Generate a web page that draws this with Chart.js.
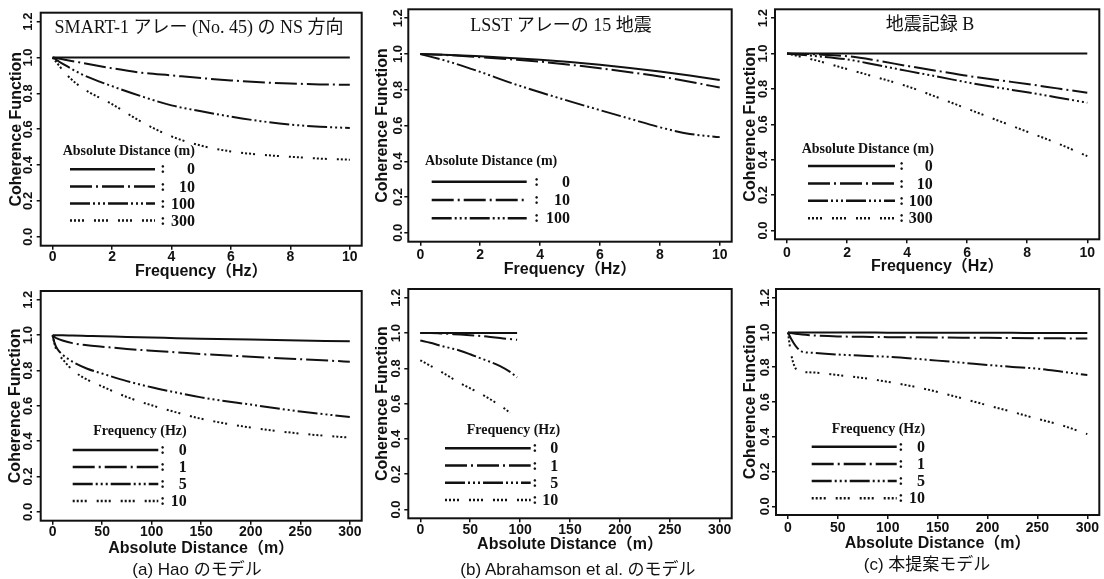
<!DOCTYPE html>
<html><head><meta charset="utf-8">
<script src="https://cdn.jsdelivr.net/npm/chart.js@4.4.1/dist/chart.umd.min.js"></script>
<style>
html,body{margin:0;padding:0;background:#fff;}
body{width:1104px;height:579px;position:relative;overflow:hidden;}
canvas{position:absolute;}
.cap{position:absolute;font-family:"Liberation Sans","Noto Sans CJK JP",sans-serif;font-size:17px;color:#111;white-space:nowrap;transform:translate(-50%,-50%);}
</style></head><body>
<canvas id="c1" width="368" height="285" style="left:0;top:0"></canvas>
<canvas id="c2" width="368" height="285" style="left:368px;top:0"></canvas>
<canvas id="c3" width="368" height="285" style="left:736px;top:0"></canvas>
<canvas id="c4" width="368" height="294" style="left:0;top:285px"></canvas>
<canvas id="c5" width="368" height="294" style="left:368px;top:285px"></canvas>
<canvas id="c6" width="368" height="294" style="left:736px;top:285px"></canvas>
<div class="cap" style="left:197px;top:567px">(a) Hao のモデル</div>
<div class="cap" style="left:578px;top:567px">(b) Abrahamson et al. のモデル</div>
<div class="cap" style="left:927px;top:562px">(c) 本提案モデル</div>
<script>
// ---- tick labels ----
const freqTicks = [0, 2, 4, 6, 8, 10];
const distTicks = [0, 50, 100, 150, 200, 250, 300];
const cohTicks = [0, 0.2, 0.4, 0.6, 0.8, 1.0, 1.2];
const distLabels = ['0', '10', '100', '300'];
const freqLabels = ['0', '1', '5', '10'];

// ---- (top-left) SMART-1 array, NS ----
const smartFreq = [0, 0.5, 1, 2, 3, 4, 5, 6, 7, 8, 9, 10];
const smart0   = [1.0, 1.0, 1.0, 1.0, 1.0, 1.0, 1.0, 1.0, 1.0, 1.0, 1.0, 1.0];
const smart10  = [1.0, 0.985, 0.97, 0.94, 0.915, 0.9, 0.885, 0.872, 0.862, 0.855, 0.85, 0.848];
const smart100 = [1.0, 0.95, 0.905, 0.84, 0.783, 0.733, 0.7, 0.67, 0.645, 0.626, 0.614, 0.607];
const smart300 = [1.0, 0.9, 0.83, 0.74, 0.64, 0.56, 0.508, 0.476, 0.458, 0.446, 0.436, 0.43];

// ---- (top-middle) LSST array ----
const lsstFreq = [0, 1, 2, 3, 4, 5, 6, 7, 8, 9, 10];
const lsst0   = [1.0, 0.995, 0.987, 0.978, 0.968, 0.955, 0.94, 0.922, 0.902, 0.88, 0.855];
const lsst10  = [1.0, 0.993, 0.982, 0.97, 0.957, 0.94, 0.92, 0.898, 0.874, 0.845, 0.812];
const lsst100 = [1.0, 0.955, 0.9, 0.84, 0.786, 0.735, 0.686, 0.638, 0.59, 0.553, 0.535];

// ---- (top-right) record B ----
const recFreq = [0, 1, 2, 3, 4, 5, 6, 7, 8, 9, 10];
const rec0   = [1.0, 1.0, 1.0, 1.0, 1.0, 1.0, 1.0, 1.0, 1.0, 1.0, 1.0];
const rec10  = [1.0, 0.995, 0.985, 0.96, 0.93, 0.902, 0.874, 0.85, 0.828, 0.803, 0.778];
const rec100 = [1.0, 0.985, 0.967, 0.935, 0.902, 0.87, 0.837, 0.808, 0.781, 0.752, 0.722];
const rec300 = [1.0, 0.96, 0.912, 0.865, 0.815, 0.753, 0.688, 0.623, 0.558, 0.493, 0.42];

// ---- (a) Hao model ----
const haoDist = [0, 2, 5, 10, 20, 35, 50, 75, 100, 125, 150, 200, 250, 300];
const hao0  = [1.0, 1.0, 1.0, 0.999, 0.998, 0.996, 0.994, 0.99, 0.987, 0.983, 0.98, 0.975, 0.97, 0.965];
const hao1  = [1.0, 0.99, 0.98, 0.97, 0.955, 0.943, 0.935, 0.922, 0.912, 0.903, 0.893, 0.878, 0.864, 0.85];
const hao5  = [1.0, 0.955, 0.92, 0.89, 0.85, 0.81, 0.783, 0.74, 0.705, 0.675, 0.648, 0.607, 0.568, 0.537];
const hao10 = [1.0, 0.95, 0.9, 0.865, 0.803, 0.748, 0.71, 0.65, 0.603, 0.563, 0.527, 0.477, 0.443, 0.42];

// ---- (b) Abrahamson et al. model ----
const abrDist = [0, 10, 20, 30, 40, 50, 60, 70, 80, 90, 97];
const abr0 = [1.0, 1.0, 1.0, 1.0, 1.0, 1.0, 1.0, 1.0, 1.0, 1.0, 1.0];
const abr1 = [1.0, 1.0, 0.998, 0.995, 0.992, 0.988, 0.984, 0.978, 0.972, 0.966, 0.962];
const abr5 = [0.958, 0.945, 0.929, 0.915, 0.9, 0.88, 0.858, 0.837, 0.813, 0.78, 0.749];
const abrDist10 = [0, 10, 20, 30, 40, 50, 60, 70, 80, 90];
const abr10 = [0.846, 0.815, 0.784, 0.75, 0.716, 0.687, 0.658, 0.625, 0.59, 0.548];

// ---- (c) proposed model ----
const propDist = [0, 3, 8, 14, 25, 50, 75, 100, 125, 150, 175, 200, 225, 250, 275, 300];
const prop0  = [1.0, 1.0, 1.0, 1.0, 1.0, 1.0, 1.0, 0.999, 0.999, 0.999, 0.998, 0.998, 0.998, 0.997, 0.997, 0.997];
const prop1  = [1.0, 0.997, 0.993, 0.988, 0.983, 0.977, 0.975, 0.973, 0.972, 0.971, 0.97, 0.969, 0.968, 0.967, 0.966, 0.965];
const prop5  = [1.0, 0.965, 0.92, 0.89, 0.883, 0.873, 0.866, 0.86, 0.85, 0.838, 0.826, 0.813, 0.802, 0.792, 0.774, 0.755];
const prop10 = [1.0, 0.88, 0.79, 0.773, 0.77, 0.755, 0.738, 0.716, 0.69, 0.658, 0.62, 0.581, 0.543, 0.503, 0.465, 0.415];

// ---- line styles ----
const DASH = {
  solid: [],
  dashDot: [22, 4, 2, 4],
  dashDots: [20, 3, 2, 3, 2, 3, 2, 3],
  dots: [2, 2, 2, 2, 2, 2, 2, 10]
};
const INK = '#111';
const SANS = '"Liberation Sans", Arial, "Noto Sans CJK JP", sans-serif';
const SERIF = '"Liberation Serif", "Times New Roman", "Noto Sans CJK JP", serif';

const boxPlugin = {
  id: 'frameBox',
  afterDraw(chart) {
    const {ctx, chartArea: a} = chart;
    ctx.save();
    ctx.strokeStyle = INK; ctx.lineWidth = 2; ctx.setLineDash([]);
    ctx.strokeRect(a.left, a.top, a.right - a.left, a.bottom - a.top);
    ctx.restore();
  }
};
const innerPlugin = {
  id: 'inner',
  afterDatasetsDraw(chart, args, o) {
    const {ctx, chartArea: a} = chart;
    ctx.save();
    ctx.fillStyle = INK;
    if (o.title) {
      ctx.font = '18px ' + SERIF;
      ctx.textAlign = 'center'; ctx.textBaseline = 'middle';
      ctx.fillText(o.title.text, a.left + o.title.cx, a.top + o.title.cy);
    }
    const L = o.legend;
    if (L) {
      ctx.font = 'bold 14px ' + SERIF;
      ctx.textAlign = 'left'; ctx.textBaseline = 'middle';
      ctx.fillText(L.title, a.left + L.tx, a.top + L.ty);
      chart.data.datasets.forEach((ds, i) => {
        const y = a.top + L.r0 + i * L.gap;
        ctx.strokeStyle = INK; ctx.lineWidth = 2.5; ctx.lineCap = 'butt';
        ctx.setLineDash(ds.borderDash || []);
        ctx.beginPath(); ctx.moveTo(a.left + L.l0, y); ctx.lineTo(a.left + L.l1, y); ctx.stroke();
        ctx.setLineDash([]);
        ctx.font = 'bold 16px ' + SERIF;
        ctx.textAlign = 'center';
        ctx.fillText(':', a.left + L.colon, y);
        ctx.textAlign = 'right';
        ctx.fillText(ds.label, a.left + L.num, y + 1);
      });
    }
    ctx.restore();
  }
};

function series(xs, ys, label, dash) {
  return {
    label, data: xs.map((x, i) => ({x, y: ys[i]})),
    borderColor: INK, borderWidth: 2, borderDash: dash,
    pointRadius: 0, fill: false, cubicInterpolationMode: 'monotone'
  };
}

function makeChart(id, p) {
  new Chart(document.getElementById(id), {
    type: 'line',
    data: {datasets: p.datasets},
    plugins: [boxPlugin, innerPlugin],
    options: {
      responsive: false, animation: false,
      layout: {padding: {top: p.pad.top, right: p.pad.right, bottom: p.pad.bottom, left: 0}},
      plugins: {
        legend: {display: false}, tooltip: {enabled: false},
        inner: {title: p.title, legend: p.legend}
      },
      scales: {
        x: {
          type: 'linear', position: 'bottom', min: p.xMin, max: p.xMax,
          afterBuildTicks: s => { s.ticks = p.xTicks.map(v => ({value: v})); },
          afterFit: s => { s.height = p.xH; s.paddingLeft = 0; s.paddingRight = 0; },
          ticks: {color: INK, font: {family: SANS, size: 14, weight: 'bold'}, padding: p.xTickPad,
                  maxRotation: 0, minRotation: 0, callback: v => String(v)},
          grid: {display: true, drawOnChartArea: false, drawTicks: true, tickLength: 4, color: INK, lineWidth: 1.5},
          border: {display: false},
          title: {display: true, text: p.xTitle, color: INK, font: {family: SANS, size: 16, weight: 'bold'}, padding: {top: 0, bottom: 0}}
        },
        y: {
          type: 'linear', position: 'left', min: -0.05, max: 1.25,
          afterBuildTicks: s => { s.ticks = cohTicks.map(v => ({value: v})); },
          afterFit: s => { s.width = p.yW; s.paddingTop = 0; s.paddingBottom = 0; },
          ticks: {color: INK, font: {family: SANS, size: 13, weight: 'bold'}, padding: p.yTickPad,
                  minRotation: 90, maxRotation: 90, crossAlign: 'center',
                  callback: v => Number(v).toFixed(1)},
          grid: {display: true, drawOnChartArea: false, drawTicks: true, tickLength: 4, color: INK, lineWidth: 1.5},
          border: {display: false},
          title: {display: true, text: 'Coherence Function', color: INK, font: {family: SANS, size: 16, weight: 'bold'}, padding: {top: p.yTitlePad + 0.6, bottom: 0}}
        }
      }
    }
  });
}

makeChart('c1', {
  datasets: [
    series(smartFreq, smart0, distLabels[0], DASH.solid),
    series(smartFreq, smart10, distLabels[1], DASH.dashDot),
    series(smartFreq, smart100, distLabels[2], DASH.dashDots),
    series(smartFreq, smart300, distLabels[3], DASH.dots)
  ],
  pad: {top: 12.7, right: 6.3, bottom: 3.7}, yW: 40.7, xH: 35.6,
  xMin: -0.4, xMax: 10.4, xTicks: freqTicks, xTitle: 'Frequency（Hz）',
  yTitlePad: 6.8, yTickPad: -0.6, xTickPad: -1.4,
  title: {text: 'SMART-1 アレー (No. 45) の NS 方向', cx: 158.3, cy: 15.3},
  legend: {title: 'Absolute Distance (m)', tx: 22, ty: 139, r0: 156.6, gap: 17.1, l0: 29.3, l1: 114.3, colon: 122.3, num: 154.3}
});
makeChart('c2', {
  datasets: [
    series(lsstFreq, lsst0, distLabels[0], DASH.solid),
    series(lsstFreq, lsst10, distLabels[1], DASH.dashDot),
    series(lsstFreq, lsst100, distLabels[2], DASH.dashDots)
  ],
  pad: {top: 9.3, right: 4.3, bottom: 5.4}, yW: 40.3, xH: 37.9,
  xMin: -0.4, xMax: 10.4, xTicks: freqTicks, xTitle: 'Frequency（Hz）',
  yTitlePad: 4.3, yTickPad: -3, xTickPad: 0.9,
  title: {text: 'LSST アレーの 15 地震', cx: 152.7, cy: 17.4},
  legend: {title: 'Absolute Distance (m)', tx: 16.7, ty: 152.4, r0: 172.4, gap: 18.3, l0: 23.4, l1: 118.4, colon: 128.4, num: 161.7}
});
makeChart('c3', {
  datasets: [
    series(recFreq, rec0, distLabels[0], DASH.solid),
    series(recFreq, rec10, distLabels[1], DASH.dashDot),
    series(recFreq, rec100, distLabels[2], DASH.dashDots),
    series(recFreq, rec300, distLabels[3], DASH.dots)
  ],
  pad: {top: 9.3, right: 4.7, bottom: 8.7}, yW: 39, xH: 37,
  xMin: -0.4, xMax: 10.4, xTicks: freqTicks, xTitle: 'Frequency（Hz）',
  yTitlePad: 4.3, yTickPad: -1.3, xTickPad: 1.6,
  title: {text: '地震記録 B', cx: 155, cy: 15.7},
  legend: {title: 'Absolute Distance (m)', tx: 26.7, ty: 140, r0: 156.7, gap: 17.4, l0: 33, l1: 120, colon: 126.7, num: 157.7}
});
makeChart('c4', {
  datasets: [
    series(haoDist, hao0, freqLabels[0], DASH.solid),
    series(haoDist, hao1, freqLabels[1], DASH.dashDot),
    series(haoDist, hao5, freqLabels[2], DASH.dashDots),
    series(haoDist, hao10, freqLabels[3], DASH.dots)
  ],
  pad: {top: 6, right: 6.3, bottom: 21.1}, yW: 40.7, xH: 37.2,
  xMin: -12, xMax: 312, xTicks: distTicks, xTitle: 'Absolute Distance（m）',
  yTitlePad: 5.5, yTickPad: -0.6, xTickPad: -1.4,
  legend: {title: 'Frequency (Hz)', tx: 52.6, ty: 140.7, r0: 159, gap: 17, l0: 32, l1: 117.6, colon: 122, num: 146}
});
makeChart('c5', {
  datasets: [
    series(abrDist, abr0, freqLabels[0], DASH.solid),
    series(abrDist, abr1, freqLabels[1], DASH.dashDot),
    series(abrDist, abr5, freqLabels[2], DASH.dashDots),
    series(abrDist10, abr10, freqLabels[3], DASH.dots)
  ],
  pad: {top: 4, right: 4.3, bottom: 24.4}, yW: 40.3, xH: 36.3,
  xMin: -12, xMax: 312, xTicks: distTicks, xTitle: 'Absolute Distance（m）',
  yTitlePad: 4.3, yTickPad: -1.4, xTickPad: -0.7,
  legend: {title: 'Frequency (Hz)', tx: 58.4, ty: 141.7, r0: 159.3, gap: 17.2, l0: 36.7, l1: 122.4, colon: 126.7, num: 150}
});
makeChart('c6', {
  datasets: [
    series(propDist, prop0, freqLabels[0], DASH.solid),
    series(propDist, prop1, freqLabels[1], DASH.dashDot),
    series(propDist, prop5, freqLabels[2], DASH.dashDots),
    series(propDist, prop10, freqLabels[3], DASH.dots)
  ],
  pad: {top: 4, right: 4.7, bottom: 26.1}, yW: 40, xH: 37.9,
  xMin: -12, xMax: 312, xTicks: distTicks, xTitle: 'Absolute Distance（m）',
  yTitlePad: 4.3, yTickPad: -2, xTickPad: 0.9,
  legend: {title: 'Frequency (Hz)', tx: 55.7, ty: 140.3, r0: 157.7, gap: 17.2, l0: 35.7, l1: 120.7, colon: 125, num: 149}
});
</script>
</body></html>
